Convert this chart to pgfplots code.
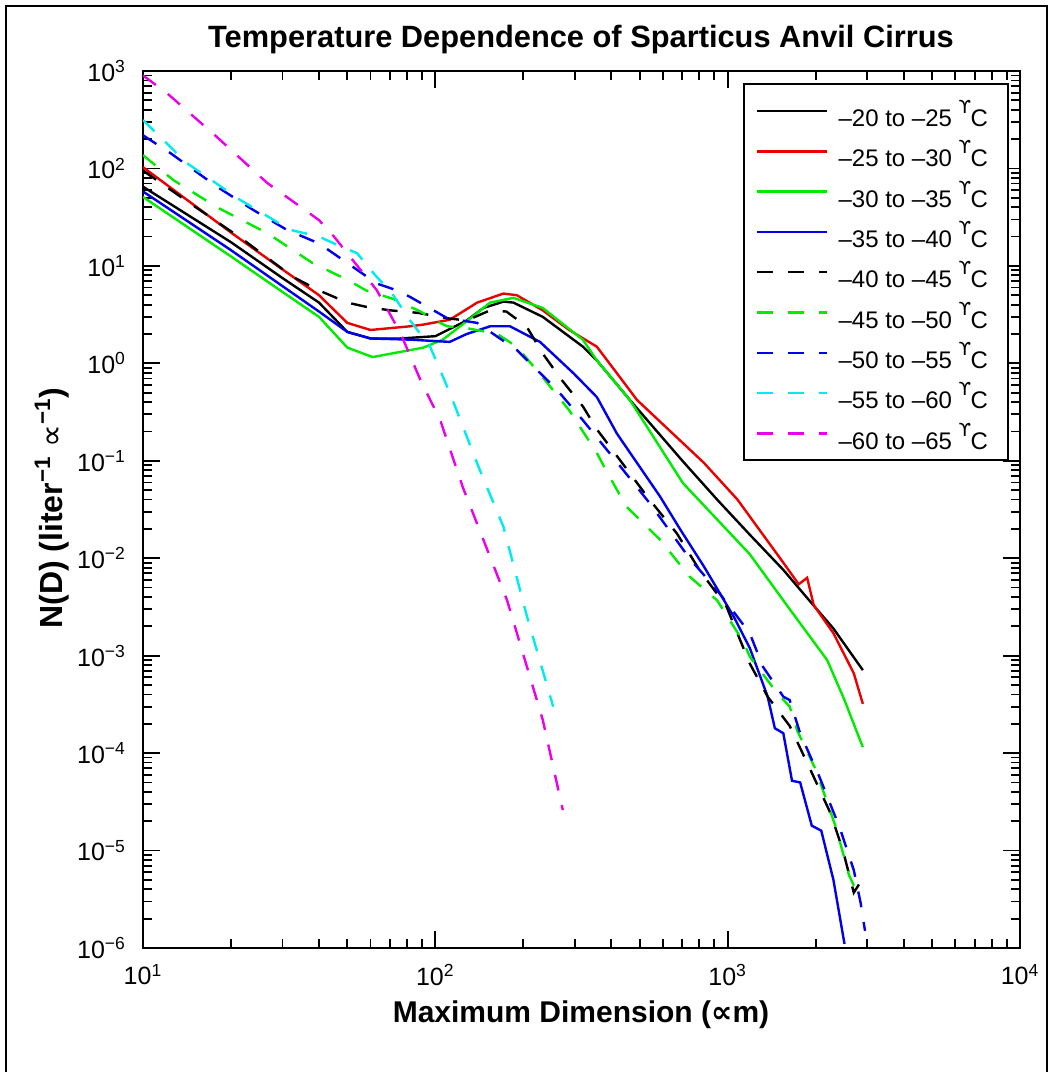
\documentclass[border=0pt]{standalone}
\usepackage{fontspec}
\setmainfont{Liberation Sans}
\newfontfamily\dejavu{DejaVu Sans}
\usepackage{pgfplots}
\pgfplotsset{compat=1.18}
\definecolor{cgreen}{RGB}{0,235,0}
\definecolor{cred}{RGB}{235,0,0}
\definecolor{cblue}{RGB}{0,0,235}
\definecolor{ccyan}{RGB}{0,235,235}
\definecolor{cmag}{RGB}{235,0,235}
\newcommand{\dC}{\smash{\raisebox{6.5pt}{\fontsize{9}{9}\selectfont\dejavu ϒ}}\kern-0.3pt C}
\newcommand{\lgent}[2]{\rule{0pt}{17.1pt}\textendash#1 to \textendash#2 \dC\kern2pt}
\newcommand{\e}[1]{10\textsuperscript{#1}}
\begin{document}
\begin{tikzpicture}
\useasboundingbox (0,0) rectangle (524.5pt,536pt);
\draw[line width=1pt] (3pt,-5pt) -- (3pt,533pt) -- (523.5pt,533pt) -- (523.5pt,-5pt);
\begin{axis}[
  at={(71.5pt,62pt)}, anchor=south west,
  scale only axis, width=438.5pt, height=438.5pt,
  xmode=log, ymode=log,
  xmin=10, xmax=10000, ymin=1e-6, ymax=1000,
  axis line style={line width=1.1pt},
  every tick/.style={black, line width=0.9pt},
  major tick length=8.5pt, minor tick length=4.5pt,
  tick align=inside,
  xtick={10,100,1000,10000},
  xticklabels={\e{1},\e{2},\e{3},\e{4}},
  minor xtick={20,30,40,50,60,70,80,90,200,300,400,500,600,700,800,900,2000,3000,4000,5000,6000,7000,8000,9000},
  ytick={1e-6,1e-5,1e-4,1e-3,1e-2,1e-1,1,10,100,1000},
  yticklabels={\e{−6},\e{−5},\e{−4},\e{−3},\e{−2},\e{−1},\e{0},\e{1},\e{2},\e{3}},
  minor ytick={2e-6,3e-6,4e-6,5e-6,6e-6,7e-6,8e-6,9e-6,
    2e-5,3e-5,4e-5,5e-5,6e-5,7e-5,8e-5,9e-5,
    2e-4,3e-4,4e-4,5e-4,6e-4,7e-4,8e-4,9e-4,
    2e-3,3e-3,4e-3,5e-3,6e-3,7e-3,8e-3,9e-3,
    2e-2,3e-2,4e-2,5e-2,6e-2,7e-2,8e-2,9e-2,
    0.2,0.3,0.4,0.5,0.6,0.7,0.8,0.9,
    2,3,4,5,6,7,8,9,20,30,40,50,60,70,80,90,
    200,300,400,500,600,700,800,900},
  tick label style={font=\fontsize{12.5}{14}\selectfont},
  xticklabel style={yshift=-4.5pt},
  yticklabel style={xshift=-5pt},
  legend style={at={(1,1)}, anchor=north east, xshift=-5.5pt, yshift=-6pt,
    draw=black, line width=1pt, font=\fontsize{12}{14}\selectfont,
    row sep=-2.45pt, inner xsep=6pt, inner ysep=2.2pt,
    /tikz/every odd column/.append style={column sep=3pt}},
  legend cell align=left,
  legend image code/.code={\draw[#1] (0pt,0pt) -- (35pt,0pt);},
  every axis plot/.append style={line width=1.2pt},
]
% -20 to -25
\addplot[black] coordinates {(10,65)(20,17.5)(30,7.5)(40,4.2)(50,2.1)(60,1.8)(76,1.8)(100,1.9)(128,2.75)(146,3.7)(171,4.3)(185,4.2)(233,3.0)(320,1.48)(357,1.07)(463,0.42)(700,0.10)(920,0.04)(1200,0.017)(1550,0.0076)(1900,0.0037)(2300,0.0019)(2900,7.1e-4)};
\addlegendentry{\lgent{20}{25}}
% -25 to -30
\addplot[cred] coordinates {(10,103)(20,22)(30,9.2)(40,5.0)(50,2.6)(60,2.2)(82,2.4)(91,2.5)(112,2.8)(139,4.2)(171,5.2)(190,5.0)(233,3.5)(287,2.2)(357,1.48)(490,0.42)(830,0.095)(1080,0.04)(1550,0.009)(1750,0.0054)(1870,0.0063)(1970,0.0033)(2300,0.0017)(2700,6.6e-4)(2900,3.2e-4)};
\addlegendentry{\lgent{25}{30}}
% -30 to -35
\addplot[cgreen] coordinates {(10,51)(20,12.5)(30,5.4)(40,3.0)(50,1.45)(61,1.16)(91,1.45)(106,1.75)(128,2.7)(154,4.2)(185,4.7)(233,3.7)(320,1.74)(357,1.07)(463,0.42)(703,0.059)(1190,0.011)(1630,0.003)(2190,9e-4)(2500,3.6e-4)(2900,1.15e-4)};
\addlegendentry{\lgent{30}{35}}
% -35 to -40
\addplot[cblue] coordinates {(10,58)(20,14.5)(30,6.2)(40,3.4)(50,2.1)(60,1.8)(82,1.75)(112,1.66)(128,2.0)(154,2.4)(180,2.4)(228,1.66)(297,0.79)(357,0.45)(418,0.19)(587,0.043)(690,0.0195)(830,0.0082)(1050,0.0025)(1190,0.0012)(1370,3.8e-4)(1450,1.8e-4)(1550,1.6e-4)(1660,5.2e-5)(1770,5.0e-5)(1940,1.8e-5)(2090,1.6e-5)(2300,5e-6)(2510,1.1e-6)};
\addlegendentry{\lgent{35}{40}}
% -40 to -45
\addplot[black, dash pattern=on 8pt off 7.5pt] coordinates {(10,95)(14.8,42)(22,18.6)(32.6,7.7)(40,5.6)(50,4.2)(58,3.8)(70,3.5)(87,3.3)(110,2.9)(128,2.75)(154,3.5)(175,3.4)(205,2.4)(233,1.26)(270,0.68)(320,0.36)(357,0.21)(430,0.10)(540,0.04)(670,0.018)(800,0.0076)(990,0.0032)(1190,8.3e-4)(1370,3.8e-4)(1630,1.9e-4)(1900,7.2e-5)(2250,2.4e-5)(2480,1.0e-5)(2700,3.7e-6)(2900,5.2e-6)};
\addlegendentry{\lgent{40}{45}}
% -45 to -50
\addplot[cgreen, dash pattern=on 8pt off 7.5pt] coordinates {(10,137)(12.7,76)(17.9,40)(26.6,21.7)(38,10.7)(50,7.2)(58,5.6)(71.5,4.6)(89,3.4)(101,2.7)(110,2.4)(128,2.3)(163,2.0)(190,1.48)(233,0.72)(287,0.33)(357,0.12)(388,0.075)(450,0.034)(587,0.0155)(740,0.0065)(920,0.0037)(1130,0.0014)(1190,9.8e-4)(1470,4.2e-4)(1630,3e-4)(1730,1.7e-4)(2000,6.8e-5)(2350,1.7e-5)(2600,5.6e-6)(2750,3.9e-6)(2950,4e-6)};
\addlegendentry{\lgent{45}{50}}
% -50 to -55
\addplot[cblue, dash pattern=on 8pt off 7.5pt] coordinates {(10,219)(12.4,144)(17.9,65)(23.8,37.6)(31,23.5)(40,17)(50,10.7)(63,6.6)(74,5.6)(82,4.8)(110,2.9)(139,2.6)(190,1.37)(260,0.54)(320,0.26)(430,0.087)(540,0.037)(740,0.010)(920,0.0047)(1080,0.0025)(1190,0.0017)(1320,7.7e-4)(1550,3.8e-4)(1630,3.5e-4)(1770,1.6e-4)(2060,5.7e-5)(2420,1.7e-5)(2700,6.3e-6)(2850,2.9e-6)(2950,1.5e-6)};
\addlegendentry{\lgent{50}{55}}
% -55 to -60
\addplot[ccyan, dash pattern=on 8pt off 7.5pt] coordinates {(10,314)(14.1,114)(21.4,48)(31.8,23.5)(40,20)(45,17)(54,13.5)(63,7.7)(70,5.6)(82,2.75)(96,1.48)(112,0.5)(142,0.08)(171,0.021)(206,0.0025)(253,3.0e-4)};
\addlegendentry{\lgent{55}{60}}
% -60 to -65
\addplot[cmag, dash pattern=on 8pt off 7.5pt] coordinates {(10,900)(12.1,590)(17.9,210)(26.6,71)(40,29.5)(45,20)(63,5.65)(76,2.04)(89,0.67)(104,0.26)(124,0.054)(176,0.0037)(233,2.2e-4)(273,2.6e-5)};
\addlegendentry{\lgent{60}{65}}
\end{axis}
\node[font=\fontsize{15.4}{18}\selectfont\bfseries] at (290.5pt,516pt) {Temperature Dependence of Sparticus Anvil Cirrus};
\node[font=\fontsize{15}{18}\selectfont\bfseries] at (290.5pt,28.5pt) {Maximum Dimension ({\dejavu ∝}m)};
\node[font=\fontsize{16}{18}\selectfont\bfseries, rotate=90] at (26pt,282pt) {N(D) (liter\textsuperscript{−1} {\dejavu\mdseries ∝}\textsuperscript{−1})};
\end{tikzpicture}
\end{document}
